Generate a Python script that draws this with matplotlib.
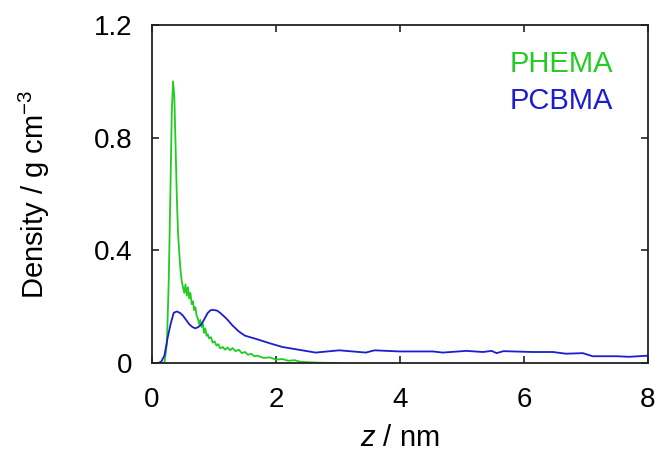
import matplotlib.pyplot as plt

# PHEMA density profile (noisy)
phema_z = [0.15, 0.20, 0.24, 0.27, 0.30, 0.32, 0.34, 0.36, 0.38, 0.40, 0.42, 0.44, 0.46,
           0.48, 0.50, 0.52, 0.54, 0.56, 0.58, 0.60, 0.62, 0.64, 0.66, 0.68, 0.70, 0.72,
           0.74, 0.76, 0.78, 0.80, 0.82, 0.84, 0.86, 0.88, 0.90, 0.92, 0.95, 0.98, 1.01,
           1.04, 1.07, 1.10, 1.14, 1.18, 1.22, 1.26, 1.30, 1.35, 1.40, 1.45, 1.50, 1.55,
           1.60, 1.65, 1.70, 1.80, 1.90, 2.00, 2.10, 2.20, 2.30, 2.40, 2.50, 2.60, 2.70,
           2.80, 2.90, 3.00]
phema_d = [0.0, 0.0, 0.067, 0.29, 0.644, 0.897, 1.0, 0.947, 0.775, 0.593, 0.462, 0.391, 0.33,
           0.29, 0.269, 0.249, 0.279, 0.239, 0.269, 0.229, 0.249, 0.209, 0.219, 0.188, 0.198, 0.168,
           0.158, 0.138, 0.153, 0.128, 0.138, 0.107, 0.123, 0.097, 0.102, 0.087, 0.092, 0.072, 0.077,
           0.062, 0.067, 0.052, 0.057, 0.047, 0.055, 0.045, 0.053, 0.042, 0.047, 0.035, 0.039, 0.029,
           0.033, 0.024, 0.026, 0.018, 0.02, 0.012, 0.014, 0.008, 0.01, 0.004, 0.003, 0.002, 0.001,
           0.0005, 0.0, 0.0]

# PCBMA density profile
pcbma_z = [0.0, 0.10, 0.15, 0.20, 0.25, 0.30, 0.35, 0.40, 0.45, 0.50, 0.55, 0.60, 0.65,
           0.70, 0.75, 0.80, 0.85, 0.90, 0.95, 1.00, 1.05, 1.10, 1.20, 1.30, 1.40, 1.50,
           1.70, 1.90, 2.10, 2.37, 2.64, 3.02, 3.45, 3.59, 3.99, 4.53, 4.69, 5.07, 5.34,
           5.48, 5.56, 5.67, 6.14, 6.47, 6.68, 6.95, 7.11, 7.49, 7.70, 8.00]
pcbma_d = [0.0, 0.0, 0.005, 0.026, 0.087, 0.138, 0.178, 0.183, 0.178, 0.168, 0.153, 0.138, 0.128,
           0.123, 0.128, 0.138, 0.158, 0.178, 0.188, 0.188, 0.186, 0.178, 0.158, 0.133, 0.112, 0.097,
           0.084, 0.07, 0.057, 0.047, 0.037, 0.045, 0.037, 0.045, 0.041, 0.041, 0.037, 0.043, 0.039,
           0.043, 0.035, 0.042, 0.039, 0.039, 0.033, 0.035, 0.024, 0.024, 0.022, 0.026]

plt.rcParams['font.family'] = ['Liberation Sans', 'DejaVu Sans']
plt.rcParams['mathtext.fontset'] = 'custom'
plt.rcParams['mathtext.it'] = 'Liberation Sans:italic'
plt.rcParams['mathtext.rm'] = 'Liberation Sans'

fig = plt.figure(figsize=(6.62, 4.57), dpi=100)
ax = fig.add_axes([0.2296, 0.2057, 0.749, 0.7396])

green = '#22cc22'
blue = '#1c1cd0'
ax.plot(phema_z, phema_d, color=green, lw=1.3)
ax.plot(pcbma_z, pcbma_d, color=blue, lw=1.3)

ax.set_xlim(0, 8)
ax.set_ylim(0, 1.2)
ax.set_xticks([0, 2, 4, 6, 8])
ax.set_yticks([0, 0.4, 0.8, 1.2])
ax.set_yticklabels(['0', '0.4', '0.8', '1.2'])
ax.tick_params(direction='in', top=True, right=True, length=5, width=1.2,
               labelsize=20, color='#222222')
ax.tick_params(axis='x', pad=17)
ax.tick_params(axis='y', pad=14)
for s in ax.spines.values():
    s.set_linewidth(1.3)
    s.set_color('#222222')

ax.set_xlabel('$z$ / nm', fontsize=21, labelpad=8)
ax.set_ylabel('Density / g cm$^{-3}$', fontsize=21, labelpad=30)

# colored labels in the top right instead of a legend with handles
ax.text(0.929, 0.86, 'PHEMA', color=green, fontsize=21, ha='right', va='baseline',
        transform=ax.transAxes)
ax.text(0.929, 0.752, 'PCBMA', color=blue, fontsize=21, ha='right', va='baseline',
        transform=ax.transAxes)

fig.savefig('out.png', dpi=100)
